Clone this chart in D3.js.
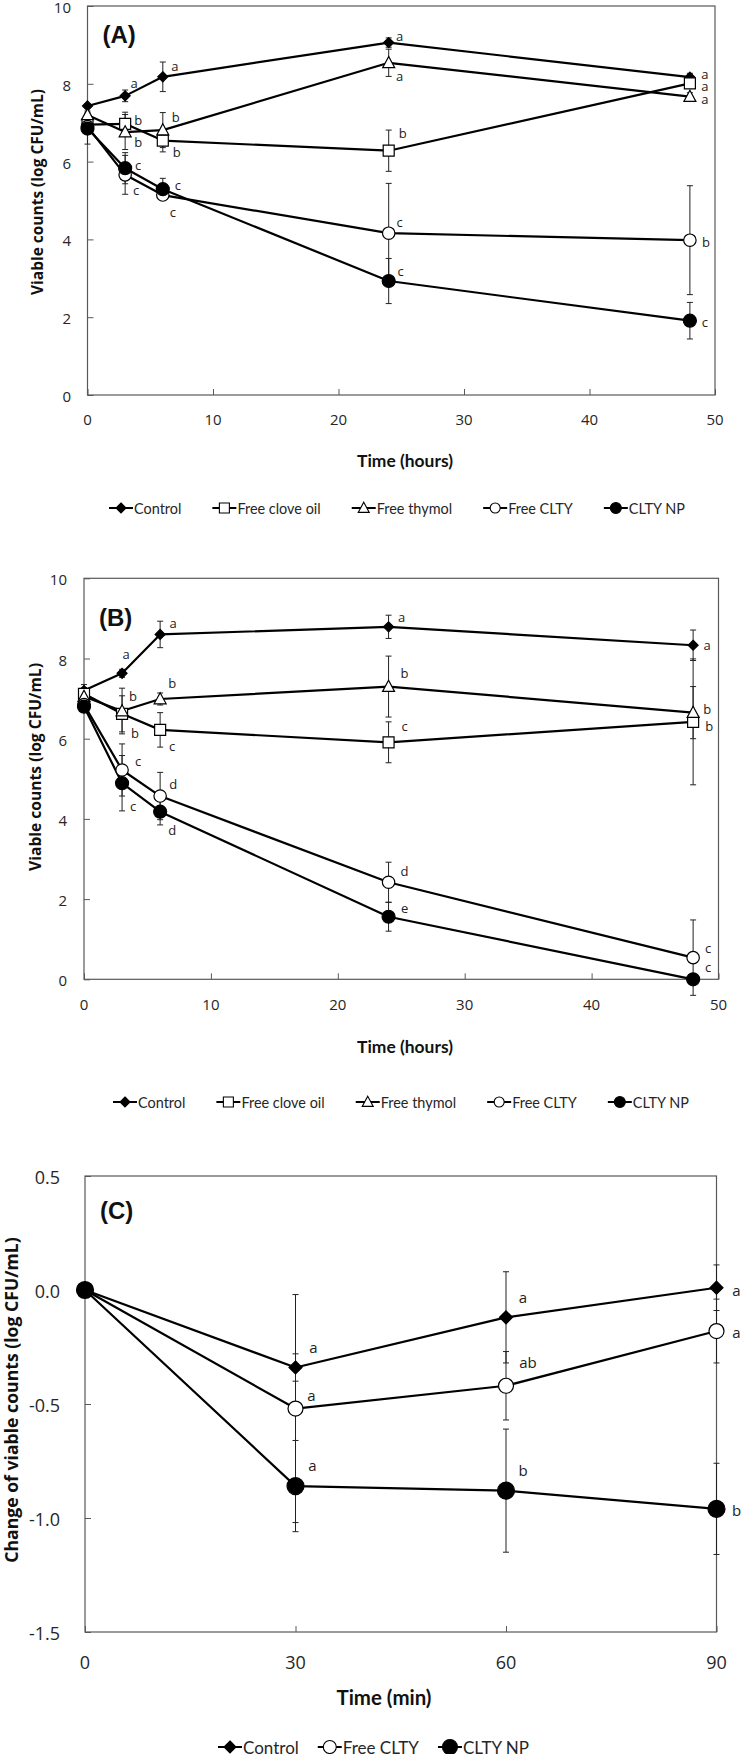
<!DOCTYPE html>
<html><head><meta charset="utf-8">
<script src="https://cdn.jsdelivr.net/npm/d3@7"></script>
<style>
html,body{margin:0;padding:0;background:#fff;}
svg{display:block;}
</style>
</head><body>
<svg id="chart" width="741" height="1754"></svg>
<script>
// ---------------- DATA ----------------
const seriesNamesAB = ["Control", "Free clove oil", "Free thymol", "Free CLTY", "CLTY NP"];
const seriesNamesC = ["Control", "Free CLTY", "CLTY NP"];

const timeHours = [0, 3, 6, 24, 48];
const xTicksHours = [0, 10, 20, 30, 40, 50];
const yTicksCounts = [0, 2, 4, 6, 8, 10];

// Panel A
const controlA = [7.43, 7.69, 8.18, 9.06, 8.17];
const controlAErr = [0.05, 0.15, 0.38, 0.12, 0.10];
const controlALetters = ["", "a", "a", "a", "a"];
const cloveA = [6.95, 6.97, 6.54, 6.28, 8.01];
const cloveAErr = [0.10, 0.30, 0.29, 0.53, 0.10];
const cloveALetters = ["", "b", "b", "b", "a"];
const thymolA = [7.20, 6.76, 6.81, 8.54, 7.67];
const thymolAErr = [0.10, 0.45, 0.45, 0.35, 0.10];
const thymolALetters = ["", "b", "b", "a", "a"];
const cltyA = [6.90, 5.66, 5.14, 4.16, 3.98];
const cltyAErr = [0.15, 0.50, 0.10, 1.28, 1.40];
const cltyALetters = ["", "c", "c", "c", "b"];
const npA = [6.85, 5.83, 5.29, 2.93, 1.91];
const npAErr = [0.40, 0.40, 0.28, 0.58, 0.47];
const npALetters = ["", "c", "c", "c", "c"];

// Panel B
const controlB = [7.20, 7.63, 8.60, 8.79, 8.33];
const controlBErr = [0.15, 0.10, 0.33, 0.29, 0.38];
const controlBLetters = ["", "a", "a", "a", "a"];
const cloveB = [7.12, 6.62, 6.22, 5.91, 6.42];
const cloveBErr = [0.15, 0.45, 0.43, 0.51, 1.57];
const cloveBLetters = ["", "b", "c", "c", "b"];
const thymolB = [7.05, 6.69, 6.99, 7.30, 6.65];
const thymolBErr = [0.10, 0.57, 0.15, 0.76, 0.65];
const thymolBLetters = ["", "b", "b", "b", "b"];
const cltyB = [6.85, 5.22, 4.57, 2.42, 0.54];
const cltyBErr = [0.10, 0.65, 0.59, 0.50, 0.94];
const cltyBLetters = ["", "c", "d", "d", "c"];
const npB = [6.80, 4.89, 4.18, 1.56, 0.00];
const npBErr = [0.10, 0.69, 0.33, 0.36, 0.00];
const npBLetters = ["", "c", "d", "e", "c"];

// Panel C
const timeMin = [0, 30, 60, 90];
const xTicksMin = [0, 30, 60, 90];
const yTicksChange = [-1.5, -1.0, -0.5, 0.0, 0.5];
const controlC = [0, -0.34, -0.12, 0.01];
const controlCErr = [0, 0.06, 0.20, 0.10];
const controlCLetters = ["", "a", "a", "a"];
const cltyC = [0, -0.52, -0.42, -0.18];
const cltyCErr = [0, 0.50, 0.15, 0.14];
const cltyCLetters = ["", "a", "ab", "a"];
const npC = [0, -0.86, -0.88, -0.96];
const npCErr = [0, 0.20, 0.27, 0.20];
const npCLetters = ["", "a", "b", "b"];

// ---------------- STYLE / LAYOUT ----------------
const labelOffsetsA = [
  [null, [9,-13], [12,-11], [11,-7], [15,-3]],
  [null, [13,-4], [14,11], [14,-18], [15,3]],
  [null, [13,10], [13,-13], [11,13], [15,2]],
  [null, [11,15], [10,17], [11,-11], [16,2]],
  [null, [13,-3], [15,-4], [12,-10], [15,1]]
];
const labelOffsetsB = [
  [null, [4,-19], [13,-11], [13,-10], [14,0]],
  [null, [13,19], [12,16], [16,-16], [16,4]],
  [null, [11,-15], [12,-16], [16,-14], [14,-4]],
  [null, [16,-9], [13,-12], [16,-11], [15,-10]],
  [null, [11,23], [12,18], [16,-9], [15,-12]]
];
const labelOffsetsC = [
  [null, [18,-21], [17,-20], [20,2]],
  [null, [16,-14], [22,-24], [20,1]],
  [null, [17,-21], [17,-21], [20,1]]
];

const svg = d3.select("#chart");
const FRAME = "#595959";
const TXT = "#262626";

function markerPath(shape, r) {
  switch (shape) {
    case "diamond": return `M0,${-r}L${r},0L0,${r}L${-r},0Z`;
    case "square": return `M${-r},${-r}H${r}V${r}H${-r}Z`;
    case "triangle": return `M0,${-r*1.05}L${r},${r*0.8}L${-r},${r*0.8}Z`;
    default: return `M${r},0A${r},${r} 0 1,1 ${-r},0A${r},${r} 0 1,1 ${r},0Z`;
  }
}

function fitText(sel, target) {
  const w = sel.node().getComputedTextLength();
  const fs = parseFloat(sel.style("font-size"));
  if (w > 0) sel.style("font-size", (fs * target / w) + "px");
}

function drawPanel(cfg) {
  const g = svg.append("g");
  const x = d3.scaleLinear().domain(cfg.xDomain).range(cfg.xRange);
  const y = d3.scaleLinear().domain(cfg.yDomain).range(cfg.yRange);
  const [x0, x1] = cfg.xRange, [y0, y1] = cfg.yRange;

  const xAxis = d3.axisTop(x).tickValues(cfg.xTicks).tickSize(6).tickFormat("");
  const gx = g.append("g").attr("transform", `translate(0,${y0})`).call(xAxis);
  gx.select(".domain").remove();
  gx.selectAll("line").attr("stroke", FRAME);
  const yAxis = d3.axisRight(y).tickValues(cfg.yTicks).tickSize(6).tickFormat("");
  const gy = g.append("g").attr("transform", `translate(${x0},0)`).call(yAxis);
  gy.select(".domain").remove();
  gy.selectAll("line").attr("stroke", FRAME);

  g.append("rect").attr("x", x0).attr("y", y1).attr("width", x1 - x0).attr("height", y0 - y1)
    .attr("fill", "none").attr("stroke", FRAME).attr("stroke-width", 1.2);

  g.selectAll(".xl").data(cfg.xTicks).enter().append("text")
    .attr("x", d => x(d)).attr("y", cfg.xLabelY).attr("text-anchor", "middle")
    .attr("dominant-baseline", "central")
    .style("font-family", "'Open Sans', sans-serif").style("font-size", cfg.tickSize + "px").attr("fill", TXT)
    .text(d => d);
  g.selectAll(".yl").data(cfg.yTicks).enter().append("text")
    .attr("x", cfg.yLabelX).attr("y", d => y(d) + 1).attr("text-anchor", "end")
    .attr("dominant-baseline", "central")
    .style("font-family", "'Open Sans', sans-serif").style("font-size", cfg.tickSize + "px").attr("fill", TXT)
    .text(d => cfg.yFmt(d));

  const xt = g.append("text").attr("x", cfg.xTitlePos[0]).attr("y", cfg.xTitlePos[1])
    .attr("text-anchor", "middle").attr("dominant-baseline", "central")
    .style("font-family", "Lato, sans-serif").style("font-weight", "bold").style("font-size", "16px")
    .attr("fill", "#111").text(cfg.xTitle);
  fitText(xt, cfg.xTitleWidth);
  const yt = g.append("text").attr("transform", `translate(${cfg.yTitlePos[0]},${cfg.yTitlePos[1]}) rotate(-90)`)
    .attr("text-anchor", "middle").attr("dominant-baseline", "central")
    .style("font-family", "'Open Sans', sans-serif").style("font-weight", "bold").style("font-size", "14px")
    .attr("fill", "#111").text(cfg.yTitle);
  fitText(yt, cfg.yTitleWidth);

  g.append("text").attr("x", x0 + 15).attr("y", cfg.panelLabelY)
    .style("font-family", "'Liberation Sans', Arial, sans-serif").style("font-weight", "bold").style("font-size", "24px")
    .attr("fill", "#111").text(cfg.panelLabel);

  cfg.series.forEach(s => {
    s.values.forEach((v, i) => {
      const e = s.err[i];
      if (!e) return;
      const cx = x(cfg.times[i]);
      g.append("line").attr("x1", cx).attr("x2", cx).attr("y1", y(v - e)).attr("y2", y(v + e))
        .attr("stroke", "#222").attr("stroke-width", 1);
      [v - e, v + e].forEach(b => {
        g.append("line").attr("x1", cx - 3).attr("x2", cx + 3).attr("y1", y(b)).attr("y2", y(b))
          .attr("stroke", "#222").attr("stroke-width", 1);
      });
    });
  });

  const line = d3.line().x((d, i) => x(cfg.times[i])).y(d => y(d));
  cfg.series.forEach(s => {
    g.append("path").attr("d", line(s.values)).attr("fill", "none")
      .attr("stroke", "#000").attr("stroke-width", 2.2).attr("stroke-linejoin", "round");
  });

  cfg.series.forEach(s => {
    s.values.forEach((v, i) => {
      g.append("path").attr("d", markerPath(s.shape, s.r))
        .attr("transform", `translate(${x(cfg.times[i])},${y(v)})`)
        .attr("fill", s.fill).attr("stroke", "#000").attr("stroke-width", 1.2);
    });
  });

  cfg.series.forEach((s, si) => {
    s.letters.forEach((l, i) => {
      if (!l) return;
      const off = cfg.labelOffsets[si][i];
      g.append("text").attr("x", x(cfg.times[i]) + off[0]).attr("y", y(s.values[i]) + off[1])
        .attr("text-anchor", "middle").attr("dominant-baseline", "central")
        .style("font-family", "'Open Sans', sans-serif").style("font-size", cfg.letterSize + "px")
        .attr("fill", "#222").text(l);
    });
  });

  // legend: symbols 24px + 1px pad, font scaled so total width matches
  const lg = g.append("g");
  const items = cfg.series.map(s => {
    const it = lg.append("g");
    it.append("line").attr("x1", 0).attr("x2", 24).attr("y1", 0).attr("y2", 0)
      .attr("stroke", "#000").attr("stroke-width", 2);
    it.append("path").attr("d", markerPath(s.shape, s.legendR)).attr("transform", "translate(12,0)")
      .attr("fill", s.fill).attr("stroke", "#000").attr("stroke-width", 1.1);
    const t = it.append("text").attr("x", 25).attr("y", 0).attr("dominant-baseline", "central")
      .style("font-family", "Lato, sans-serif").style("font-size", "15px").attr("fill", TXT).text(s.name);
    return { it, t };
  });
  const textSum = d3.sum(items, d => d.t.node().getComputedTextLength());
  const fixed = items.length * 25 + (items.length - 1) * cfg.legendGap;
  const fs = 15 * (cfg.legendWidth - fixed) / textSum;
  let cursor = 0;
  items.forEach(d => {
    d.t.style("font-size", fs + "px");
    d.it.attr("transform", `translate(${cursor},${cfg.legendY})`);
    cursor += 25 + d.t.node().getComputedTextLength() + cfg.legendGap;
  });
  lg.attr("transform", `translate(${cfg.legendStart},0)`);
}

function abSeries(vals, errs, letters) {
  const shapes = [["diamond", 5, "#000", 5], ["square", 5.5, "#fff", 5], ["triangle", 6, "#fff", 5.5], ["circle", 6.2, "#fff", 5], ["circle", 6.5, "#000", 5.5]];
  return seriesNamesAB.map((n, i) => ({
    name: n, values: vals[i], err: errs[i], letters: letters[i],
    shape: shapes[i][0], r: shapes[i][1], fill: shapes[i][2], legendR: shapes[i][3]
  }));
}

drawPanel({
  xDomain: [0, 50], xRange: [87.5, 715], yDomain: [0, 10], yRange: [395, 6],
  xTicks: xTicksHours, yTicks: yTicksCounts, yFmt: d => d, tickSize: 15,
  xLabelY: 419, yLabelX: 71, times: timeHours,
  xTitle: "Time (hours)", xTitlePos: [405, 460], xTitleWidth: 96,
  yTitle: "Viable counts (log CFU/mL)", yTitlePos: [36.5, 192], yTitleWidth: 206,
  panelLabel: "(A)", panelLabelY: 43, letterSize: 13,
  series: abSeries([controlA, cloveA, thymolA, cltyA, npA],
                   [controlAErr, cloveAErr, thymolAErr, cltyAErr, npAErr],
                   [controlALetters, cloveALetters, thymolALetters, cltyALetters, npALetters]),
  labelOffsets: labelOffsetsA,
  legendY: 508, legendStart: 109, legendWidth: 576, legendGap: 31
});

drawPanel({
  xDomain: [0, 50], xRange: [84, 718.5], yDomain: [0, 10], yRange: [979.3, 578.3],
  xTicks: xTicksHours, yTicks: yTicksCounts, yFmt: d => d, tickSize: 15,
  xLabelY: 1004, yLabelX: 67, times: timeHours,
  xTitle: "Time (hours)", xTitlePos: [405, 1046], xTitleWidth: 96,
  yTitle: "Viable counts (log CFU/mL)", yTitlePos: [34.5, 767], yTitleWidth: 208,
  panelLabel: "(B)", panelLabelY: 626, letterSize: 13,
  series: abSeries([controlB, cloveB, thymolB, cltyB, npB],
                   [controlBErr, cloveBErr, thymolBErr, cltyBErr, npBErr],
                   [controlBLetters, cloveBLetters, thymolBLetters, cltyBLetters, npBLetters]),
  labelOffsets: labelOffsetsB,
  legendY: 1102, legendStart: 113, legendWidth: 576, legendGap: 31
});

const cShapes = [["diamond", 6.5, "#000", 6], ["circle", 7.5, "#fff", 6.5], ["circle", 8.5, "#000", 7.5]];
const cVals = [controlC, cltyC, npC], cErrs = [controlCErr, cltyCErr, npCErr], cLet = [controlCLetters, cltyCLetters, npCLetters];
drawPanel({
  xDomain: [0, 90], xRange: [85, 716.5], yDomain: [-1.5, 0.5], yRange: [1632, 1176],
  xTicks: xTicksMin, yTicks: yTicksChange, yFmt: d => d.toFixed(1), tickSize: 18,
  xLabelY: 1662, yLabelX: 60, times: timeMin,
  xTitle: "Time (min)", xTitlePos: [384, 1697], xTitleWidth: 95,
  yTitle: "Change of viable counts (log CFU/mL)", yTitlePos: [11, 1400], yTitleWidth: 326,
  panelLabel: "(C)", panelLabelY: 1219, letterSize: 15,
  series: seriesNamesC.map((n, i) => ({
    name: n, values: cVals[i], err: cErrs[i], letters: cLet[i],
    shape: cShapes[i][0], r: cShapes[i][1], fill: cShapes[i][2], legendR: cShapes[i][3]
  })),
  labelOffsets: labelOffsetsC,
  legendY: 1747, legendStart: 218, legendWidth: 311, legendGap: 19
});
</script>
</body></html>
